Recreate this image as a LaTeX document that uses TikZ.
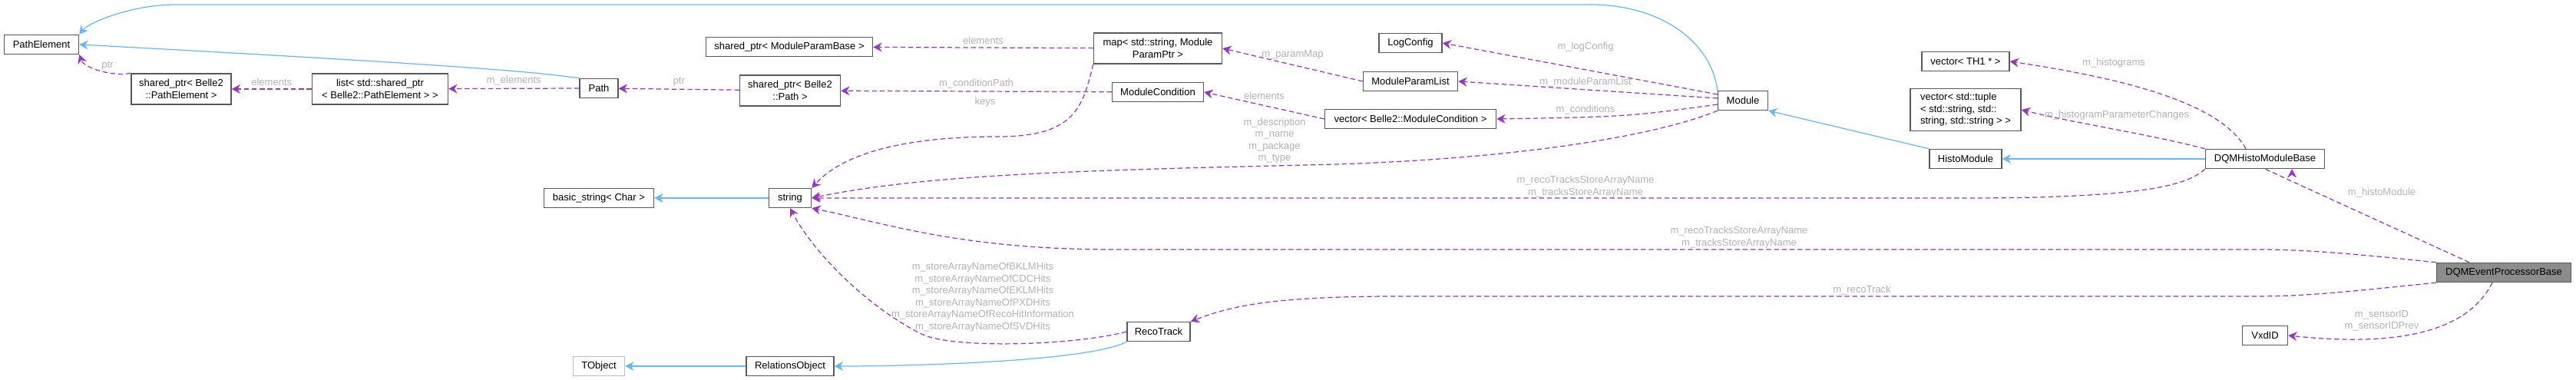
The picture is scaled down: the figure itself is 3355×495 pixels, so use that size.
\documentclass[tikz,border=0pt]{standalone}
\usepackage{fontspec}
\setmainfont{Liberation Sans}
\usetikzlibrary{arrows.meta}

\definecolor{inhblue}{HTML}{63B8FF}
\definecolor{usepurple}{HTML}{9A32CD}
\tikzset{
  cls/.style={draw=black!65, fill=white, inner sep=0pt, minimum height=0.25cm,
    align=center, font=\fontsize{3.7}{4.4}\selectfont},
  hl/.style={cls, fill=black!45},
  inh/.style={draw=inhblue, line width=0.35pt, -{Stealth[length=3.2pt,width=3.4pt]}},
  use/.style={draw=usepurple, dash pattern=on 1.8pt off 1.1pt, line width=0.35pt,
    -{Stealth[length=3.2pt,width=3.4pt]}},
  lbl/.style={text=black!30, inner sep=0pt, align=center, font=\fontsize{3.7}{4.4}\selectfont}
}

\begin{document}
\begin{tikzpicture}[x=0.01cm,y=-0.01cm]
  \useasboundingbox (0,0) rectangle (3355,495);
  % classes
  \node[cls, minimum width=0.97cm] (pe) at (54,58) {PathElement};
  \node[cls, minimum width=1.30cm, minimum height=0.40cm] (spe) at (236,116) {shared\_ptr< Belle2\\::PathElement >};
  \node[cls, minimum width=1.77cm, minimum height=0.40cm] (lst) at (495,116) {list< std::shared\_ptr\\< Belle2::PathElement > >};
  \node[cls, minimum width=0.50cm] (path) at (780,115) {Path};
  \node[cls, minimum width=1.31cm, minimum height=0.40cm] (spp) at (1029,118) {shared\_ptr< Belle2\\::Path >};
  \node[cls, minimum width=2.17cm] (spmb) at (1028,61) {shared\_ptr< ModuleParamBase >};
  \node[cls, minimum width=1.43cm] (bstr) at (780,258) {basic\_string< Char >};
  \node[cls, minimum width=0.55cm] (str) at (1029,258) {string};
  \node[cls, minimum width=0.67cm, draw=black!25] (tobj) at (780,477) {TObject};
  \node[cls, minimum width=1.14cm] (relo) at (1029,477) {RelationsObject};
  \node[cls, minimum width=1.67cm, minimum height=0.40cm] (map) at (1508,63) {map< std::string, Module\\ParamPtr >};
  \node[cls, minimum width=1.19cm] (mcond) at (1508,120) {ModuleCondition};
  \node[cls, minimum width=0.82cm] (logc) at (1837,56) {LogConfig};
  \node[cls, minimum width=1.23cm] (mpl) at (1837,106) {ModuleParamList};
  \node[cls, minimum width=2.23cm] (vmc) at (1837,155) {vector< Belle2::ModuleCondition >};
  \node[cls, minimum width=0.82cm] (reco) at (1509,432) {RecoTrack};
  \node[cls, minimum width=0.65cm] (mod) at (2270,131) {Module};
  \node[cls, minimum width=1.14cm] (vth) at (2560,80) {vector< TH1 * >};
  \node[cls, minimum width=1.44cm, minimum height=0.55cm, align=left] (vtup) at (2560,143) {vector< std::tuple\\< std::string, std::\\string, std::string > >};
  \node[cls, minimum width=0.94cm] (histo) at (2560,207) {HistoModule};
  \node[cls, minimum width=1.55cm] (dqmh) at (2950,207) {DQMHistoModuleBase};
  \node[hl, minimum width=1.75cm] (dqme) at (3261,355) {DQMEventProcessorBase};
  \node[cls, minimum width=0.59cm] (vxd) at (2950,437) {VxdID};
  % inheritance
  \draw[inh] (mod.north west) .. controls (2230,60) and (2170,6) .. (2070,6)
    -- (230,6) .. controls (170,6) and (115,30) .. (pe.north east);
  \draw[inh] (path.north west) .. controls (700,95) and (660,88) .. (pe.east);
  \draw[inh] (str) -- (bstr);
  \draw[inh] (relo) -- (tobj);
  \draw[inh] (reco.south west) .. controls (1420,470) and (1200,477) .. (relo.east);
  \draw[inh] (histo.north west) -- (mod.south east);
  \draw[inh] (dqmh) -- (histo);
  % members
  \draw[use] (spe.north west) .. controls (150,100) and (110,90) .. (pe.south east) node[lbl, pos=0.5, above right] (l1) {ptr};
  \draw[use] (lst) -- (spe) node[lbl, midway, above=1pt] (l2) {elements};
  \draw[use] (path.west) -- (lst) node[lbl, midway, above=1pt] (l3) {m\_elements};
  \draw[use] (spp) -- (path) node[lbl, midway, above=1pt] (l4) {ptr};
  \draw[use] (mcond) -- (spp) node[lbl, midway, above=1pt] (l5) {m\_conditionPath};
  \draw[use] (map) -- (spmb) node[lbl, midway, above=1pt] (l6) {elements};
  \draw[use] (map.south west) .. controls (1410,140) and (1400,178) .. (1300,178)
    .. controls (1130,178) and (1080,220) .. (str.north east);
  \node[lbl] (l7) at (1283,133) {keys};
  \draw[use] (mpl.west) -- (map.east) node[lbl, pos=0.5, above=2pt] (l8) {m\_paramMap};
  \draw[use] (vmc.west) -- (mcond.east) node[lbl, pos=0.5, above=2pt] (l9) {elements};
  \draw[use] (mod.west) ++(0,-8) coordinate (m1) (m1) -- (logc.east);
  \node[lbl] (l10) at (2065,61) {m\_logConfig};
  \draw[use] (mod.west) ++(0,-3) coordinate (m2) (m2) -- (mpl.east);
  \node[lbl] (l11) at (2065,107) {m\_moduleParamList};
  \draw[use] (mod.west) ++(0,5) coordinate (m3) (m3) .. controls (2120,152) .. (vmc.east);
  \node[lbl] (l12) at (2065,143) {m\_conditions};
  \draw[use] (mod.south west) .. controls (2150,180) and (1950,210) .. (1700,215)
    .. controls (1400,222) and (1200,228) .. (str.east);
  \node[lbl] (l13) at (1660,183) {m\_description\\m\_name\\m\_package\\m\_type};
  \draw[use] (dqmh.south west) .. controls (2850,240) and (2800,258) .. (2560,258) -- (str.east);
  \node[lbl] (l14) at (2065,243) {m\_recoTracksStoreArrayName\\m\_tracksStoreArrayName};
  \draw[use] (dqme.north west) .. controls (3060,330) and (3000,325) .. (2940,325)
    -- (1450,325) .. controls (1250,325) and (1150,290) .. (str.south east);
  \node[lbl] (l15) at (2265,309) {m\_recoTracksStoreArrayName\\m\_tracksStoreArrayName};
  \draw[use] (dqme.south west) .. controls (3060,380) and (3000,386) .. (2940,386)
    -- (1820,386) .. controls (1650,386) and (1600,400) .. (reco.north east);
  \node[lbl] (l16) at (2425,378) {m\_recoTrack};
  \draw[use] (reco.west) .. controls (1400,450) and (1240,455) .. (1200,435)
    .. controls (1130,400) and (1060,330) .. (str.south);
  \node[lbl] (l17) at (1280,387) {m\_storeArrayNameOfBKLMHits\\m\_storeArrayNameOfCDCHits\\m\_storeArrayNameOfEKLMHits\\m\_storeArrayNameOfPXDHits\\m\_storeArrayNameOfRecoHitInformation\\m\_storeArrayNameOfSVDHits};
  \draw[use] (dqmh.north west) .. controls (2800,175) and (2700,160) .. (vtup.east);
  \node[lbl] (l18) at (2757,150) {m\_histogramParameterChanges};
  \draw[use] (dqmh.north) ++(-25,0) coordinate (h1) (h1) .. controls (2890,130) and (2750,100) .. (vth.east);
  \node[lbl] (l19) at (2753,82) {m\_histograms};
  \draw[use] (dqme.north) ++(-45,0) coordinate (e1) (e1) -- (dqmh.south) ++(35,0);
  \node[lbl] (l20) at (3102,251) {m\_histoModule};
  \draw[use] (dqme.south) ++(-15,0) coordinate (e2) (e2) .. controls (3220,420) and (3150,455) .. (vxd.east);
  \node[lbl] (l21) at (3102,418) {m\_sensorID\\m\_sensorIDPrev};
\end{tikzpicture}
\end{document}
